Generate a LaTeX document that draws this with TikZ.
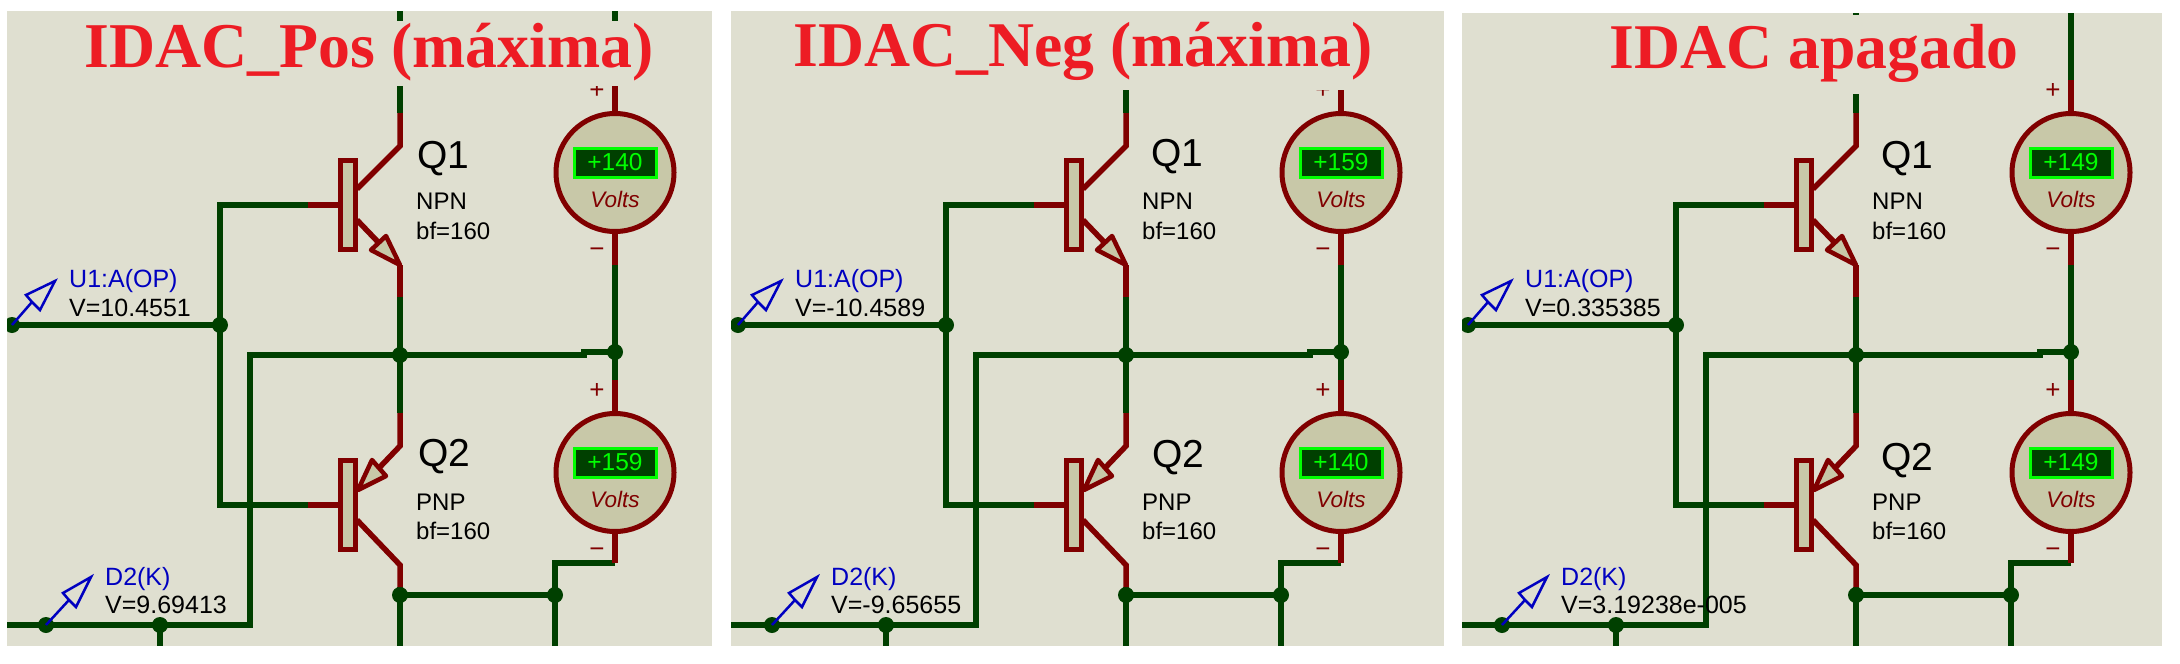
\documentclass[tikz,border=0pt]{standalone}
\usepackage{fontspec}
\setmainfont{Liberation Sans}
\newfontfamily\titlefont{Liberation Serif}
\usetikzlibrary{arrows.meta,shapes,positioning}
\definecolor{panelbg}{HTML}{DFDFD0}
\definecolor{bodyfill}{HTML}{C8C8A8}
\definecolor{partred}{HTML}{800000}
\definecolor{wiregreen}{HTML}{004000}
\definecolor{titlered}{HTML}{ED1C24}
\definecolor{probeblue}{HTML}{0000C0}

\begin{document}
\begin{tikzpicture}[x=1pt, y=-1pt, >=Stealth,
    wire/.style={wiregreen, line width=5.5pt},
    lead/.style={partred, line width=5.5pt},
    jdot/.style={circle, fill=wiregreen, minimum size=16pt, inner sep=0pt, outer sep=0pt},
    qbar/.style={rectangle, draw=partred, fill=bodyfill, line width=5pt, minimum width=15pt, minimum height=89pt, inner sep=0pt, outer sep=0pt},
    qarrow/.style={draw=partred, fill=bodyfill, line width=4.5pt, line join=round},
    vmeter/.style={circle, draw=partred, fill=bodyfill, line width=5pt, minimum size=118pt, inner sep=0pt, outer sep=0pt},
    vdisplay/.style={rectangle, draw=green, fill=wiregreen, text=green, line width=3pt, minimum width=82pt, minimum height=29pt, inner sep=0pt, text height=17pt, text depth=3pt, font=\fontsize{24.5}{24}\selectfont},
    vunit/.style={partred, anchor=base, inner sep=0pt, font=\fontsize{22.5}{22.5}\selectfont\itshape},
    vsign/.style={partred, inner sep=0pt, font=\fontsize{26}{26}\selectfont},
    probe/.style={probeblue, line width=2.5pt},
    qname/.style={anchor=base west, inner sep=0pt, font=\fontsize{39}{39}\selectfont},
    qinfo/.style={anchor=base west, inner sep=0pt, font=\fontsize{24}{24}\selectfont},
    plabel/.style={anchor=base west, inner sep=0pt, font=\fontsize{25}{25}\selectfont},
    title/.style={titlered, anchor=base, inner sep=0pt}]
    \useasboundingbox (0,0) rectangle (2180,664);

    \foreach \dx/\p/\xl/\xr/\yt/\cvl/\cvr/\cvt/\cvb/\ttl/\tx/\ty/\tsz/\vop/\vdk/\mtop/\mbot/\qax/\qay/\qbx/\qby in {
        0/a/7/712/11/75/660/21/86/{IDAC\_Pos (máxima)}/369/67/63.8/10.4551/9.69413/+140/+159/417/168/418/466,
        726/b/5/718/11/54/674/11/90/{IDAC\_Neg (máxima)}/357/66/63.7/-10.4589/-9.65655/+159/+140/425/166/426/467,
        1456/c/6/706/13/144/574/15/94/{IDAC apagado}/358/68/63.7/0.335385/3.19238e-005/+149/+149/425/168/425/470} {
    \begin{scope}[xshift=\dx pt]
        \fill[panelbg] (\xl,\yt) rectangle (\xr,645.5);
        \clip (\xl,\yt) rectangle (\xr,645.5);

        % junctions, meters and transistor bars
        \node[jdot] (j1\p) at (12,325) {};
        \node[jdot] (j2\p) at (220,325) {};
        \node[jdot] (j3\p) at (400,355) {};
        \node[jdot] (j4\p) at (615,352) {};
        \node[jdot] (j5\p) at (46,625) {};
        \node[jdot] (j6\p) at (160,625) {};
        \node[jdot] (j7\p) at (400,595) {};
        \node[jdot] (j8\p) at (555,595) {};

        \coordinate (topc\p) at (400,\yt);
        \coordinate (topm\p) at (615,\yt);
        \coordinate (c1\p) at (400,113);
        \coordinate (k1\p) at (400,146);
        \coordinate (g1\p) at (357,189);
        \coordinate (e1\p) at (357,220);
        \coordinate (h1\p) at (379,243);
        \coordinate (t1\p) at (400,265);
        \coordinate (o1\p) at (400,297);
        \coordinate (b1\p) at (308,205);
        \coordinate (c2\p) at (400,413);
        \coordinate (k2\p) at (400,446);
        \coordinate (h2\p) at (379,468);
        \coordinate (e2\p) at (357,520);
        \coordinate (t2\p) at (400,565);
        \coordinate (o2\p) at (400,587);
        \coordinate (b2\p) at (308,505);
        \coordinate (r1\p) at (615,80);
        \coordinate (r2\p) at (615,265);
        \coordinate (r3\p) at (615,380);
        \coordinate (r4\p) at (615,563);
        \coordinate (s1\p) at (584,355);
        \coordinate (s2\p) at (250,355);
        \coordinate (s3\p) at (250,625);
        \coordinate (s4\p) at (\xl,625);
        \coordinate (botc\p) at (400,645.5);
        \coordinate (bot6\p) at (160,645.5);
        \coordinate (bot8\p) at (555,645.5);
        \coordinate (p1\p) at (32,302);
        \coordinate (p2\p) at (69,600);

        % wires
        \draw[wire] (topc\p) -- (c1\p);
        \draw[wire] (o1\p) -- (j3\p.center) -- (c2\p);
        \draw[wire] (o2\p) -- (j7\p.center) -- (botc\p);
        \draw[wire] (topm\p) -- (r1\p);
        \draw[wire] (r2\p) -- (j4\p.center) -- (r3\p);
        \draw[wire] (r4\p) -| (j8\p.center) -- (bot8\p);
        \draw[wire] (j7\p.center) -- (j8\p.center);
        \draw[wire] (j1\p.center) -- (j2\p.center);
        \draw[wire] (b1\p) -| (j2\p.center) |- (b2\p);
        \draw[wire] (s4\p) -- (s3\p) -- (s2\p) -- (s1\p) -- ++(0,-3) -- (j4\p.center);
        \draw[wire] (j6\p.center) -- (bot6\p);

        % parts
        \draw[lead] (c1\p) -- (k1\p) -- (g1\p);
        \draw[lead] (e1\p) -- (h1\p);
        \draw[lead] (t1\p) -- (o1\p);
        \draw[lead] (c2\p) -- (k2\p) -- (h2\p);
        \draw[lead] (e2\p) -- (t2\p) -- (o2\p);
        \draw[lead] (r1\p) -- (615,112);
        \draw[lead] (615,234) -- (r2\p);
        \draw[lead] (r3\p) -- (615,412);
        \draw[lead] (615,533) -- (r4\p);
        \draw[lead] (b1\p) -- (340,205);
        \draw[lead] (b2\p) -- (340,505);
        \draw[qarrow] (400,265) -- (386,236) -- (371,250) -- cycle;
        \draw[qarrow] (358,490) -- (372,460) -- (386,476) -- cycle;
        \node[qbar] (q1\p) at (348,205) {};
        \node[qbar] (q2\p) at (348,505) {};

        \node[vmeter] (m1\p) at (615,172.5) {};
        \node[vmeter] (m2\p) at (615,472.5) {};
        \node[vdisplay] (d1\p) at (615,163) {\mtop};
        \node[vdisplay] (d2\p) at (615,463) {\mbot};
        \node[vunit] (u1\p) at (615,207) {Volts};
        \node[vunit] (u2\p) at (615,507) {Volts};
        \node[vsign] (s5\p) at (597,91) {+};
        \node[vsign] (s6\p) at (597,253) {−};
        \node[vsign] (s7\p) at (597,391) {+};
        \node[vsign] (s8\p) at (597,553) {−};

        % probes
        \draw[probe] (j1\p.center) -- (p1\p);
        \draw[probe] (p1\p) -- ++(-6,-7) -- (55,281) -- (40,310) -- cycle;
        \draw[probe] (j5\p.center) -- (p2\p);
        \draw[probe] (p2\p) -- ++(-6,-7) -- (91,577) -- (76,607) -- cycle;

        % texts
        \node[plabel, probeblue] (o\p) at (69,287) {U1:A(OP)};
        \node[plabel] (ov\p) at (69,316) {V=\vop};
        \node[plabel, probeblue] (k\p) at (105,585) {D2(K)};
        \node[plabel] (kv\p) at (105,613) {V=\vdk};
        \node[qname] (n1\p) at (\qax,\qay) {Q1};
        \node[qname] (n2\p) at (\qbx,\qby) {Q2};
        \node[qinfo] (i1\p) at (416,209) {NPN};
        \node[qinfo] (f1\p) at (416,239) {bf=160};
        \node[qinfo] (i2\p) at (416,510) {PNP};
        \node[qinfo] (f2\p) at (416,539) {bf=160};

        % title sits on a blank patch of the sheet
        \fill[panelbg] (\cvl,\cvt) rectangle (\cvr,\cvb);
        \node[title, font=\titlefont\bfseries\fontsize{\tsz}{\tsz}\selectfont] (t\p) at (\tx,\ty) {\ttl};
    \end{scope}
    }
\end{tikzpicture}
\end{document}
